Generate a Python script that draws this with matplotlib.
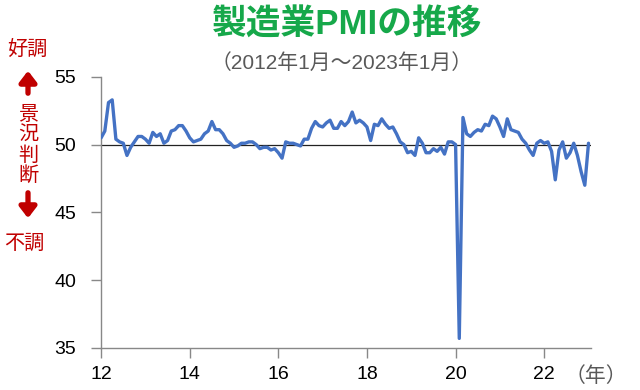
import numpy as np
import matplotlib.pyplot as plt

plt.rcParams['font.family'] = ['Liberation Sans', 'Noto Sans CJK JP', 'DejaVu Sans']

# 製造業PMI（月次, 2012年1月～2023年1月）
pmi_2012 = [50.5, 51.0, 53.1, 53.3, 50.4, 50.2, 50.1, 49.2, 49.8, 50.2, 50.6, 50.6]
pmi_2013 = [50.4, 50.1, 50.9, 50.6, 50.8, 50.1, 50.3, 51.0, 51.1, 51.4, 51.4, 51.0]
pmi_2014 = [50.5, 50.2, 50.3, 50.4, 50.8, 51.0, 51.7, 51.1, 51.1, 50.8, 50.3, 50.1]
pmi_2015 = [49.8, 49.9, 50.1, 50.1, 50.2, 50.2, 50.0, 49.7, 49.8, 49.8, 49.6, 49.7]
pmi_2016 = [49.4, 49.0, 50.2, 50.1, 50.1, 50.0, 49.9, 50.4, 50.4, 51.2, 51.7, 51.4]
pmi_2017 = [51.3, 51.6, 51.8, 51.2, 51.2, 51.7, 51.4, 51.7, 52.4, 51.6, 51.8, 51.6]
pmi_2018 = [51.3, 50.3, 51.5, 51.4, 51.9, 51.5, 51.2, 51.3, 50.8, 50.2, 50.0, 49.4]
pmi_2019 = [49.5, 49.2, 50.5, 50.1, 49.4, 49.4, 49.7, 49.5, 49.8, 49.3, 50.2, 50.2]
pmi_2020 = [50.0, 35.7, 52.0, 50.8, 50.6, 50.9, 51.1, 51.0, 51.5, 51.4, 52.1, 51.9]
pmi_2021 = [51.3, 50.6, 51.9, 51.1, 51.0, 50.9, 50.4, 50.1, 49.6, 49.2, 50.1, 50.3]
pmi_2022 = [50.1, 50.2, 49.5, 47.4, 49.6, 50.2, 49.0, 49.4, 50.1, 49.2, 48.0, 47.0]
pmi_2023 = [50.1]

pmi = (pmi_2012 + pmi_2013 + pmi_2014 + pmi_2015 + pmi_2016 + pmi_2017
       + pmi_2018 + pmi_2019 + pmi_2020 + pmi_2021 + pmi_2022 + pmi_2023)
x = 2012 + np.arange(len(pmi)) / 12

year_ticks = [2012, 2014, 2016, 2018, 2020, 2022]
year_labels = ['12', '14', '16', '18', '20', '22']
y_ticks = [35, 40, 45, 50, 55]

fig = plt.figure(figsize=(6.4, 3.9), dpi=100)
ax = fig.add_axes([0.158, 0.108, 0.765, 0.695])

ax.plot(x, pmi, color='#4472C4', linewidth=2.4, solid_capstyle='round', zorder=3)
ax.axhline(50, color='#222222', linewidth=0.9, zorder=2)

ax.set_xlim(2012, 2023.05)
ax.set_ylim(35, 55)
ax.set_xticks(year_ticks)
ax.set_xticklabels(year_labels)
ax.set_yticks(y_ticks)

for s in ['top', 'right']:
    ax.spines[s].set_visible(False)
for s in ['left', 'bottom']:
    ax.spines[s].set_color('#888888')
    ax.spines[s].set_linewidth(1.0)
ax.tick_params(axis='both', colors='#888888', labelcolor='black', labelsize=14,
               length=7, width=1.0)
ax.tick_params(axis='y', pad=11)
ax.tick_params(axis='x', pad=6)

# タイトル
fig.text(0.543, 0.936, '製造業PMIの推移', color='#16A84A', fontsize=25,
         fontweight='bold', ha='center', va='center')
fig.text(0.533, 0.838, '（2012年1月～2023年1月）', color='#595959', fontsize=15,
         ha='center', va='center')

# 左側の注記
red = '#C00000'
fig.text(27 / 640, 1 - 49 / 390, '好調', color=red, fontsize=14.5, ha='center', va='center')
fig.text(24 / 640, 1 - 243 / 390, '不調', color=red, fontsize=14.5, ha='center', va='center')
fig.text(28 / 640, 1 - 145 / 390, '景\n況\n判\n断', color=red, fontsize=14.5,
         ha='center', va='center', linespacing=1.1)
ax.annotate('', xy=(28, 390 - 68), xytext=(28, 390 - 96), xycoords='figure pixels',
            textcoords='figure pixels',
            arrowprops=dict(arrowstyle='-|>,head_width=0.5,head_length=0.65',
                            color=red, lw=3.8))
ax.annotate('', xy=(28, 390 - 221), xytext=(28, 390 - 190), xycoords='figure pixels',
            textcoords='figure pixels',
            arrowprops=dict(arrowstyle='-|>,head_width=0.5,head_length=0.65',
                            color=red, lw=3.8))

# 単位
fig.text(596 / 640, 1 - 376 / 390, '（年）', color='#595959', fontsize=15,
         ha='center', va='center')

fig.savefig('out.png', dpi=100)
